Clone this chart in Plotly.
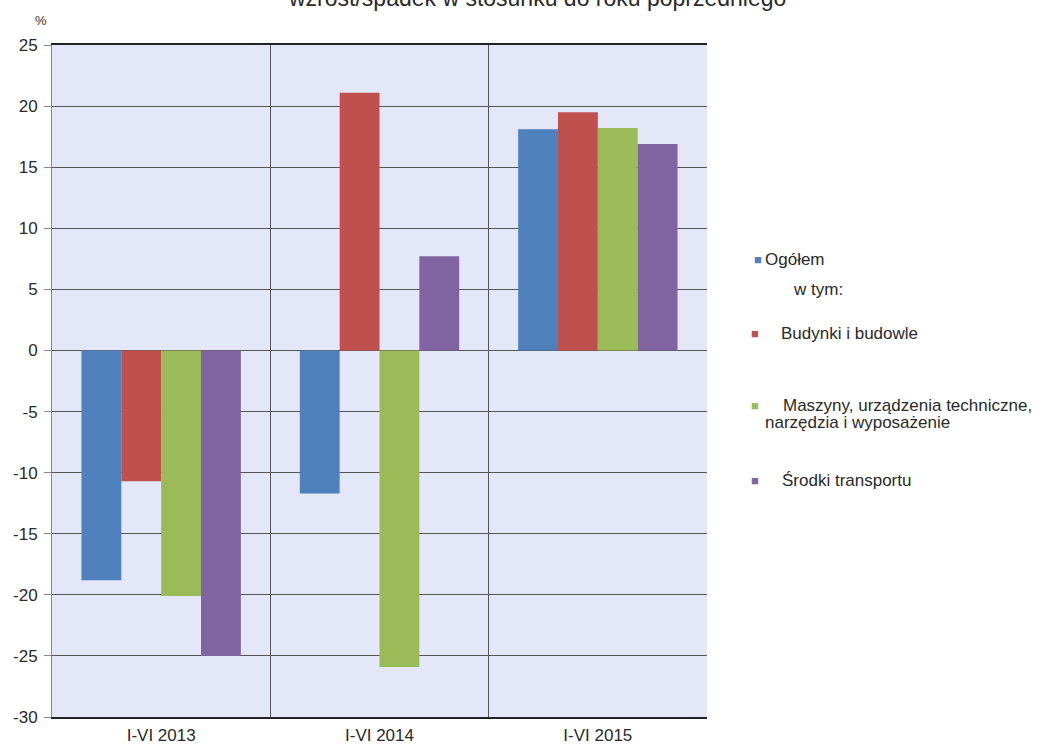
import plotly.graph_objects as go

categories = ["I-VI 2013", "I-VI 2014", "I-VI 2015"]
series_names = ["Ogółem", "Budynki i budowle",
                "Maszyny, urządzenia techniczne, narzędzia i wyposażenie",
                "Środki transportu"]
ogolem = [-18.8, -11.7, 18.1]
budynki = [-10.7, 21.1, 19.5]
maszyny = [-20.1, -25.9, 18.2]
srodki = [-25.0, 7.7, 16.9]
colors = ["#4F81BD", "#C0504D", "#9BBB59", "#8064A2"]
y_ticks = list(range(-30, 30, 5))
y_ticktext = [str(v) for v in y_ticks]

W, H = 1055, 748
L, R, T, B = 52, 348, 45, 31
PW, PH = W - L - R, H - T - B

def px(x):
    return (x - L) / PW

def py(y):
    return 1 - (y - T) / PH

fig = go.Figure()
for name, vals, c in zip(series_names, [ogolem, budynki, maszyny, srodki], colors):
    fig.add_trace(go.Bar(x=categories, y=vals, name=name, marker_color=c,
                         marker_line_width=0, showlegend=False))

font = "Liberation Sans, Arial, sans-serif"
TXT = "#2a2a2a"
FS = 17
anns = []
# title (cut off at top in the original)
anns.append(dict(text="wzrost/spadek w stosunku do roku poprzedniego", xref="paper", yref="paper",
                 x=px(537), y=py(13), xanchor="center", yanchor="bottom", showarrow=False,
                 font=dict(family=font, size=23, color=TXT)))
anns.append(dict(text="%", xref="paper", yref="paper", x=px(41), y=py(20), xanchor="center",
                 yanchor="middle", showarrow=False, font=dict(family=font, size=13, color="#333")))
# custom legend
leg = [
    (colors[0], 758, 259, series_names[0], 763),
    (colors[1], 755, 333, series_names[1], 779),
    (colors[3], 755, 480, series_names[3], 780),
]
for c, mx, my, txt, tx in leg:
    anns.append(dict(text="■", xref="paper", yref="paper", x=px(mx), y=py(my), xanchor="center",
                     yanchor="middle", showarrow=False, font=dict(family=font, size=13, color=c)))
    anns.append(dict(text=txt, xref="paper", yref="paper", x=px(tx), y=py(my), xanchor="left",
                     yanchor="middle", showarrow=False, font=dict(family=font, size=FS, color=TXT)))
anns.append(dict(text="w tym:", xref="paper", yref="paper", x=px(791), y=py(290), xanchor="left",
                 yanchor="middle", showarrow=False, font=dict(family=font, size=FS, color=TXT)))
anns.append(dict(text="■", xref="paper", yref="paper", x=px(755), y=py(405), xanchor="center",
                 yanchor="middle", showarrow=False, font=dict(family=font, size=13, color=colors[2])))
anns.append(dict(text="Maszyny, urządzenia techniczne,", xref="paper", yref="paper", x=px(781), y=py(405),
                 xanchor="left", yanchor="middle", showarrow=False,
                 font=dict(family=font, size=FS, color=TXT)))
anns.append(dict(text="narzędzia i wyposażenie", xref="paper", yref="paper", x=px(763), y=py(422),
                 xanchor="left", yanchor="middle", showarrow=False,
                 font=dict(family=font, size=FS, color=TXT)))

fig.update_layout(
    width=W, height=H,
    margin=dict(l=L, r=R, t=T, b=B, autoexpand=False),
    paper_bgcolor="white",
    plot_bgcolor="#E3E7F8",
    barmode="group",
    bargap=0.27,
    bargroupgap=0,
    font=dict(family=font, size=FS, color=TXT),
    annotations=anns,
    xaxis=dict(type="category", tickson="boundaries", showgrid=True, gridcolor="#555",
               gridwidth=1, ticks="", showline=True, linecolor="#222", linewidth=2,
               mirror=True, ticklabelstandoff=2, tickfont=dict(size=FS, color=TXT)),
    yaxis=dict(range=[-30, 25], tickvals=y_ticks, ticktext=y_ticktext, showgrid=True,
               gridcolor="#555", gridwidth=1,
               zeroline=True, zerolinecolor="#555", zerolinewidth=1,
               ticks="outside", ticklen=7, tickcolor="#888", showline=True, linecolor="#888",
               linewidth=1, ticklabelstandoff=3, tickfont=dict(size=FS, color=TXT)),
)
fig.write_html("out.html", config={"displayModeBar": False})

with open("out.html", "r", encoding="utf-8") as f:
    html = f.read()
html = html.replace("<head>", "<head><style>html,body{margin:0;padding:0;overflow:hidden;}</style>", 1)
with open("out.html", "w", encoding="utf-8") as f:
    f.write(html)
